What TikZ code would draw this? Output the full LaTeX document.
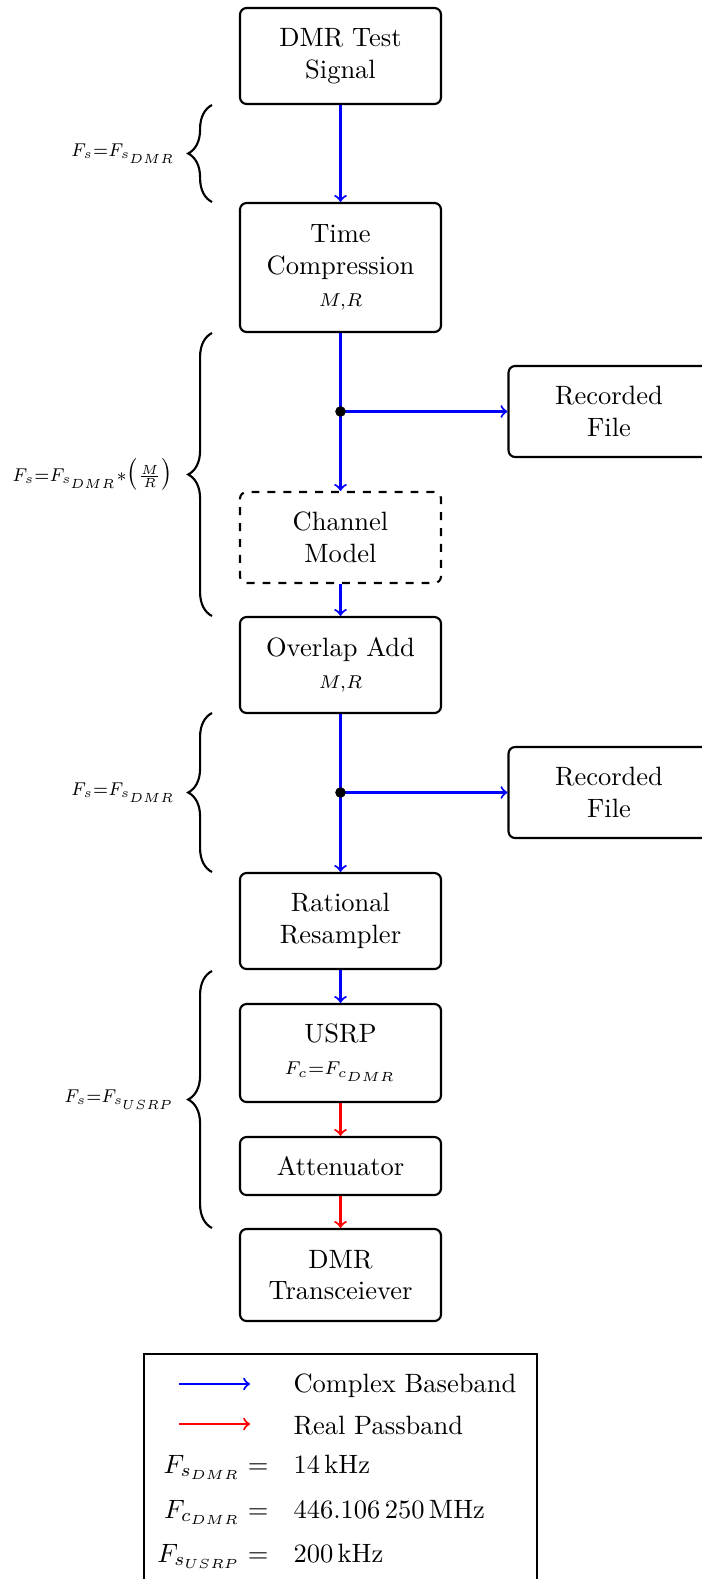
\documentclass[tikz,border=0pt]{standalone}
\usepackage{graphicx}
\usetikzlibrary{decorations.pathreplacing}
\def\PXU{0.3774}
\newcommand\lbsq[1]{\scalebox{0.93}[1]{#1}}
\tikzset{
  box/.style={draw, thick, rounded corners=2.5pt, align=center, inner sep=2pt,
    minimum width=201*\PXU pt},
  dbox/.style={box, dashed},
  arrb/.style={->, thick, blue},
  arrr/.style={->, thick, red},
  brc/.style={thick, decorate, decoration={brace, amplitude=9pt}},
  blab/.style={anchor=east, inner sep=0pt},
  dot/.style={fill=black},
}
\begin{document}
\begin{tikzpicture}[x=\PXU pt, y=-\PXU pt]
\clip (0,0) rectangle (702,1579);
% main chain
\node[box, minimum height=96*\PXU pt] (dmr) at (340.5,56) {DMR Test\\Signal};
\node[box, minimum height=129*\PXU pt] (tc) at (340.5,267.5) {Time\\Compression\\$\scriptstyle M,R$};
\node[box, minimum height=91*\PXU pt] (rec1) at (609,411.5) {Recorded\\File};
\node[dbox, minimum height=91*\PXU pt] (ch) at (340.5,537.5) {Channel\\Model};
\node[box, minimum height=96*\PXU pt] (ola) at (340.5,665) {Overlap Add\\$\scriptstyle M,R$};
\node[box, minimum height=91*\PXU pt] (rec2) at (609,792.5) {Recorded\\File};
\node[box, minimum height=96*\PXU pt] (rr) at (340.5,921) {Rational\\Resampler};
\node[box, minimum height=98*\PXU pt] (usrp) at (340.5,1053) {USRP\\$\scriptstyle F_c=F_{c_{DMR}}$};
\node[box, minimum height=58*\PXU pt] (att) at (340.5,1166) {Attenuator};
\node[box, minimum height=92*\PXU pt] (trx) at (340.5,1275) {DMR\\Transceiever};
% junctions
\coordinate (j1) at (tc.south |- rec1.west);
\coordinate (j2) at (ola.south |- rec2.west);
% connectors
\draw[arrb] (dmr) -- (tc);
\draw[arrb] (tc) -- (ch);
\draw[arrb] (j1) -- (rec1);
\draw[arrb] (ch) -- (ola);
\draw[arrb] (ola) -- (rr);
\draw[arrb] (j2) -- (rec2);
\draw[arrb] (rr) -- (usrp);
\draw[arrr] (usrp) -- (att);
\draw[arrr] (att) -- (trx);
\fill[dot] (j1) circle (2pt);
\fill[dot] (j2) circle (2pt);
% braces
\coordinate (b1a) at (212,202); \coordinate (b1b) at (212,105);
\coordinate (b2a) at (212,616); \coordinate (b2b) at (212,333);
\coordinate (b3a) at (212,872); \coordinate (b3b) at (212,713);
\coordinate (b4a) at (212,1228); \coordinate (b4b) at (212,971);
\draw[brc] (b1a) -- (b1b);
\draw[brc] (b2a) -- (b2b);
\draw[brc] (b3a) -- (b3b);
\draw[brc] (b4a) -- (b4b);
\node[blab] (l1) at (176,153.5) {\lbsq{$\scriptstyle F_s=F_{s_{DMR}}$}};
\node[blab] (l2) at (173,474.5) {\lbsq{$\scriptstyle F_s=F_{s_{DMR}}*\bigl(\frac{M}{R}\bigr)$}};
\node[blab] (l3) at (176,792.5) {\lbsq{$\scriptstyle F_s=F_{s_{DMR}}$}};
\node[blab] (l4) at (175,1099.5) {\lbsq{$\scriptstyle F_s=F_{s_{USRP}}$}};
% legend
\draw[thin] (144,1354) rectangle (537,1600);
\coordinate (a1s) at (179,1384); \coordinate (a1e) at (250,1384);
\coordinate (a2s) at (179,1424); \coordinate (a2e) at (250,1424);
\draw[arrb] (a1s) -- (a1e);
\draw[arrr] (a2s) -- (a2e);
\node[anchor=base west, inner sep=0pt] (t1) at (293,1392) {Complex Baseband};
\node[anchor=base west, inner sep=0pt] (t2) at (293,1434) {Real Passband};
\node[anchor=base east, inner sep=0pt] (k3) at (269,1473) {$F_{s_{DMR}} =$};
\node[anchor=base west, inner sep=0pt] (t3) at (293,1473) {14\,kHz};
\node[anchor=base east, inner sep=0pt] (k4) at (269,1518) {$F_{c_{DMR}} =$};
\node[anchor=base west, inner sep=0pt] (t4) at (293,1518) {446.106\,250\,MHz};
\node[anchor=base east, inner sep=0pt] (k5) at (269,1562) {$F_{s_{USRP}} =$};
\node[anchor=base west, inner sep=0pt] (t5) at (293,1562) {200\,kHz};
\end{tikzpicture}
\end{document}
